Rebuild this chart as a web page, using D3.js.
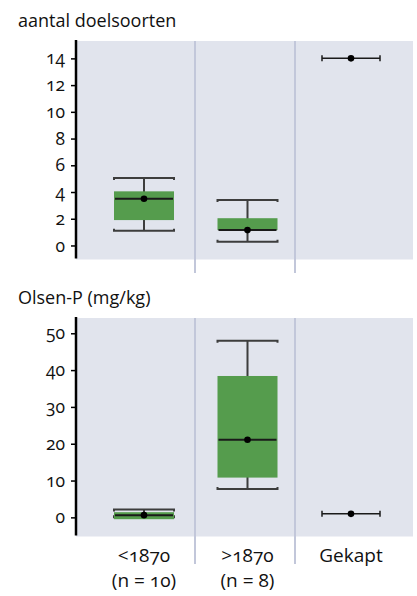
<!DOCTYPE html>
<html lang="nl">
<head>
<meta charset="UTF-8">
<title>Doelsoorten en Olsen-P</title>
<script src="https://cdn.jsdelivr.net/npm/d3@7"></script>
<style>
  body { margin: 0; background: #fff; }
  svg text { font-family: "Open Sans", "Lato", sans-serif; font-variant-numeric: oldstyle-nums; fill: #111; }
</style>
</head>
<body>
<script>
// categorieen op de x-as
var groups = ["<1870", ">1870", "Gekapt"];
var groupN = ["(n = 10)", "(n = 8)", ""];

// aantal doelsoorten (boxplot: min, q1, mediaan, q3, max, gemiddelde)
var doelMin  = [1.1, 0.27, null];
var doelQ1   = [1.9, 1.15, null];
var doelMed  = [3.5, 1.15, null];
var doelQ3   = [4.05, 2.04, null];
var doelMax  = [5.05, 3.4, null];
var doelMean = [3.5, 1.15, 14];
var doelTicks = [0, 2, 4, 6, 8, 10, 12, 14];

// Olsen-P (mg/kg)
var olsenMin  = [0, 7.7, null];
var olsenQ1   = [-0.5, 10.8, null];
var olsenMed  = [0.6, 21.1, null];
var olsenQ3   = [1.4, 38.4, null];
var olsenMax  = [2.1, 48, null];
var olsenMean = [0.6, 21.1, 0.95];
var olsenTicks = [0, 10, 20, 30, 40, 50];

var width = 417, height = 596;
var left = 76, right = 413;
var boxW = 60;

var svg = d3.select("body").append("svg")
    .attr("width", width)
    .attr("height", height);

// x: middens van de boxen en scheidingslijnen
var xMid = d3.scalePoint().domain(groups).range([144, 351]);
var xBand = d3.scaleBand().domain(groups).range([95, 395]);

function panel(opts){
    var y = d3.scaleLinear().domain(opts.domain).range([opts.bottom, opts.top]);

    // titel
    svg.append("text")
        .attr("x", 18).attr("y", opts.top - 14)
        .attr("font-size", "18px")
        .text(opts.title);

    // achtergrond
    svg.append("rect")
        .attr("x", left).attr("y", opts.top)
        .attr("width", right - left).attr("height", opts.bottom - opts.top)
        .attr("fill", "#e1e4ed");

    // scheidingslijnen tussen groepen
    svg.selectAll(null)
        .data(groups.slice(1))
        .enter().append("line")
        .attr("x1", function(d){ return xBand(d); })
        .attr("x2", function(d){ return xBand(d); })
        .attr("y1", opts.top)
        .attr("y2", opts.lineEnd)
        .attr("stroke", "#c2c7da")
        .attr("stroke-width", 2);

    // y-as
    var axis = svg.append("g")
        .attr("transform", "translate(" + left + ",0)")
        .call(d3.axisLeft(y).tickValues(opts.ticks).tickSize(5).tickPadding(6).tickSizeOuter(0));
    axis.select(".domain").attr("stroke", "#000").attr("stroke-width", 2.5)
        .attr("d", "M0," + (opts.top - 1) + "V" + (opts.bottom - 1));
    axis.selectAll(".tick line").attr("stroke", "#000").attr("stroke-width", 1.5);
    axis.selectAll(".tick text").attr("font-size", "17.5px").attr("fill", "#111")
        .style("font-family", "'Open Sans', sans-serif");

    var idx = d3.range(groups.length);
    var boxes = idx.filter(function(i){ return opts.q1[i] !== null; });
    var singles = idx.filter(function(i){ return opts.q1[i] === null; });

    var g = svg.append("g");
    // snorharen
    boxes.forEach(function(i){
        var cx = xMid(groups[i]), x0 = cx - boxW / 2, x1 = cx + boxW / 2;
        var yMax = y(opts.max[i]), yMin = y(opts.min[i]);
        g.append("path")
            .attr("d", "M" + cx + "," + yMin + "V" + yMax +
                  "M" + x0 + "," + (yMax + 2) + "V" + yMax + "H" + x1 + "V" + (yMax + 2) +
                  "M" + x0 + "," + (yMin - 2) + "V" + yMin + "H" + x1 + "V" + (yMin - 2))
            .attr("fill", "none")
            .attr("stroke", "#3d3d3d")
            .attr("stroke-width", 2);
    });
    // boxen
    g.selectAll(null)
        .data(boxes)
        .enter().append("rect")
        .attr("x", function(i){ return xMid(groups[i]) - boxW / 2; })
        .attr("y", function(i){ return y(opts.q3[i]); })
        .attr("width", boxW)
        .attr("height", function(i){ return y(opts.q1[i]) - y(opts.q3[i]); })
        .attr("fill", "#559c4d");
    // mediaan
    g.selectAll(null)
        .data(boxes)
        .enter().append("line")
        .attr("x1", function(i){ return xMid(groups[i]) - boxW / 2 + 1; })
        .attr("x2", function(i){ return xMid(groups[i]) + boxW / 2 - 1; })
        .attr("y1", function(i){ return y(opts.med[i]); })
        .attr("y2", function(i){ return y(opts.med[i]); })
        .attr("stroke", "#1a1a1a")
        .attr("stroke-width", 2);
    // enkele waarde met horizontale balk
    singles.forEach(function(i){
        var cx = xMid(groups[i]), yv = y(opts.mean[i]);
        g.append("path")
            .attr("d", "M" + (cx - 29) + "," + yv + "H" + (cx + 29) +
                  "M" + (cx - 29) + "," + (yv - 3) + "V" + (yv + 3) +
                  "M" + (cx + 29) + "," + (yv - 3) + "V" + (yv + 3))
            .attr("fill", "none")
            .attr("stroke", "#1a1a1a")
            .attr("stroke-width", 1.5);
    });
    // gemiddelde
    g.selectAll(null)
        .data(idx)
        .enter().append("circle")
        .attr("cx", function(i){ return xMid(groups[i]); })
        .attr("cy", function(i){ return y(opts.mean[i]); })
        .attr("r", 3.3)
        .attr("fill", "#000");
}

panel({
    title: "aantal doelsoorten", top: 41, bottom: 259.5, lineEnd: 273,
    domain: [-1.05, 15.3], ticks: doelTicks,
    min: doelMin, q1: doelQ1, med: doelMed, q3: doelQ3, max: doelMax, mean: doelMean
});

panel({
    title: "Olsen-P (mg/kg)", top: 318, bottom: 536.5, lineEnd: 564,
    domain: [-5.2, 54.15], ticks: olsenTicks,
    min: olsenMin, q1: olsenQ1, med: olsenMed, q3: olsenQ3, max: olsenMax, mean: olsenMean
});

// x-labels
var labels = svg.append("g");
labels.selectAll(null)
    .data(groups)
    .enter().append("text")
    .attr("x", function(d){ return xMid(d); })
    .attr("y", 562)
    .attr("text-anchor", "middle")
    .attr("font-size", "19px")
    .text(function(d){ return d; });
labels.selectAll(null)
    .data(groupN)
    .enter().append("text")
    .attr("x", function(d, i){ return xMid(groups[i]); })
    .attr("y", 587)
    .attr("text-anchor", "middle")
    .attr("font-size", "19px")
    .text(function(d){ return d; });
</script>
</body>
</html>
